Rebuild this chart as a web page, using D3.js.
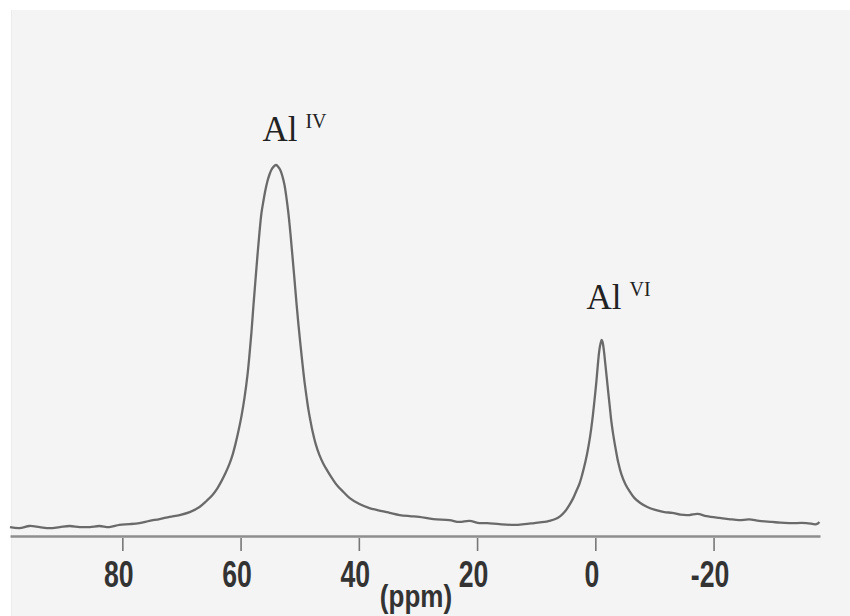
<!DOCTYPE html>
<html>
<head>
<meta charset="utf-8">
<script src="https://cdn.jsdelivr.net/npm/d3@7"></script>
<style>
  html, body { margin: 0; padding: 0; background: #ffffff; }
  svg { display: block; }
</style>
</head>
<body>
<svg id="chart" width="850" height="616"></svg>
<script>
// ---- data ----
const ppm = [99.0, 97.4, 95.7, 94.0, 92.3, 90.6, 88.9, 87.2, 85.5, 83.9, 82.2, 80.5, 78.8, 77.1, 75.4,
  73.7, 72.0, 70.3, 68.6, 66.95, 65.77, 64.75, 63.9, 63.23, 62.55, 61.88, 61.37, 60.86, 60.36, 59.85,
  59.34, 58.83, 58.5, 58.16, 57.82, 57.48, 57.14, 56.8, 56.47, 56.13, 55.79, 55.45, 55.11, 54.78, 54.44,
  54.0, 53.59, 53.25, 52.92, 52.58, 52.24, 51.9, 51.56, 51.23, 50.89, 50.55, 50.21, 49.87, 49.53, 49.2,
  48.86, 48.52, 48.18, 47.84, 47.34, 46.66, 45.98, 45.31, 44.46, 43.62, 42.6, 41.59, 39.9, 38.2, 37.0,
  34.8, 33.1, 31.4, 29.8, 27.4, 24.7, 23.0, 21.3, 19.6, 18.3, 16.2, 13.7, 12.0, 10.3, 8.6,
  7.78, 6.76, 5.92, 5.07, 4.4, 3.72, 3.21, 2.7, 2.2, 1.69, 1.27, 0.85, 0.51, 0.17, -0.17, -0.42, -0.68,
  -0.9, -1.07, -1.23, -1.44, -1.69, -1.94, -2.2, -2.45, -2.7, -3.04, -3.47, -3.89, -4.4, -5.07, -5.75,
  -6.59, -7.61, -8.79, -10.14, -11.67, -13.0, -14.4, -15.9, -17.3, -18.8, -21.0, -22.6, -24.3, -26.0,
  -27.7, -29.9, -31.3, -32.8, -35.7, -37.4, -37.9];
const intensity = [0.8, 0.5, 1.1, 0.8, 0.5, 0.8, 1.1, 0.8, 0.8, 1.1, 0.8, 1.4, 1.6, 1.9, 2.5,
  3.0, 3.6, 4.1, 4.9, 6.3, 7.95, 9.6, 11.5, 13.4, 15.6, 18.1, 20.5, 23.6, 27.1, 31.2,
  36.2, 42.5, 47.9, 54.2, 61.6, 68.5, 75.3, 81.6, 86.8, 90.2, 93.2, 95.6, 97.4, 98.7, 99.5,
  100, 99.4, 98.5, 96.9, 94.6, 91.0, 86.6, 81.1, 75.1, 68.8, 62.2, 56.2, 50.7, 45.5, 40.8,
  36.7, 32.9, 29.9, 27.1, 23.8, 20.5, 18.1, 16.2, 14.0, 12.1, 10.4, 8.8, 7.1, 6.0, 5.5,
  4.7, 4.1, 3.8, 3.6, 3.0, 2.7, 2.2, 2.5, 1.9, 1.9, 1.6, 1.4, 1.6, 1.9, 2.2,
  2.5, 3.0, 3.8, 5.2, 6.8, 8.8, 10.7, 12.6, 15.3, 18.6, 21.9, 26.0, 30.1, 35.1, 40.5, 45.2, 49.3,
  51.2, 52.1, 51.5, 49.3, 45.5, 41.6, 37.5, 33.7, 29.9, 26.0, 21.9, 18.4, 15.3, 12.6, 10.7,
  8.8, 7.4, 6.3, 5.5, 4.9, 4.7, 4.2, 4.1, 4.4, 3.8, 3.3, 3.0, 2.7, 2.9,
  2.5, 2.2, 2.0, 1.9, 1.9, 1.6, 2.2];
const tickValues = [80, 60, 40, 20, 0, -20];
const tickLabels = ["80", "60", "40", "20", "0", "-20"];
const axisTitle = "(ppm)";
const peakLabels = [
  { main: "Al", sup: "IV", ppm: 56.3, inten: 106.6 },
  { main: "Al", sup: "VI", ppm: 1.5, inten: 60.5 }
];

// ---- drawing ----
const svg = d3.select("#chart");
const W = 850, H = 616;

svg.append("rect").attr("x", 0).attr("y", 0).attr("width", W).attr("height", H).attr("fill", "#ffffff");
svg.append("rect").attr("x", 11).attr("y", 10).attr("width", W - 11).attr("height", H - 10)
  .attr("fill", "#f4f4f4");
svg.append("line").attr("x1", 11.5).attr("x2", 11.5).attr("y1", 10).attr("y2", H)
  .attr("stroke", "#ececec").attr("stroke-width", 1);

const x = d3.scaleLinear().domain([99, -38]).range([10, 820]);
const y = d3.scaleLinear().domain([0, 100]).range([530, 165]);

// axis
const axisG = svg.append("g").attr("transform", "translate(0,536)")
  .call(d3.axisBottom(x).tickValues(tickValues).tickSize(15).tickSizeOuter(0)
    .tickFormat((d, i) => tickLabels[i]).tickPadding(6));
axisG.select(".domain").attr("stroke", "#8e8e8e").attr("stroke-width", 2.5);
axisG.selectAll(".tick line").attr("stroke", "#777").attr("stroke-width", 1.6).attr("y1", 2);
axisG.selectAll(".tick text")
  .attr("font-family", "'Liberation Sans', Arial, sans-serif")
  .attr("font-weight", "bold")
  .attr("font-size", 37)
  .attr("fill", "#333")
  .attr("dy", 0)
  .attr("y", 51)
  .attr("x", -4 / 0.72)
  .attr("transform", "scale(0.72,1)");

// axis title
svg.append("text")
  .attr("transform", `translate(${(x(40) + x(20)) / 2 - 2},607) scale(0.84,1)`)
  .attr("text-anchor", "middle")
  .attr("font-family", "'Liberation Sans', Arial, sans-serif")
  .attr("font-weight", "bold")
  .attr("font-size", 31)
  .attr("fill", "#333")
  .text(axisTitle);

// spectrum
const pts = ppm.map((p, i) => [p, intensity[i]]);
const line = d3.line().x(d => x(d[0])).y(d => y(d[1])).curve(d3.curveCatmullRom.alpha(0.5));
svg.append("path").datum(pts)
  .attr("d", line)
  .attr("fill", "none")
  .attr("stroke", "#6a6a6a")
  .attr("stroke-width", 2.3)
  .attr("stroke-linejoin", "round");

// peak labels
peakLabels.forEach(l => {
  const t = svg.append("text")
    .attr("x", x(l.ppm)).attr("y", y(l.inten))
    .attr("font-family", "'Liberation Serif', 'Times New Roman', serif")
    .attr("fill", "#222");
  t.append("tspan").attr("font-size", 35).text(l.main);
  t.append("tspan").attr("font-size", 20).attr("dx", 8).attr("dy", -13).text(l.sup);
});
</script>
</body>
</html>
